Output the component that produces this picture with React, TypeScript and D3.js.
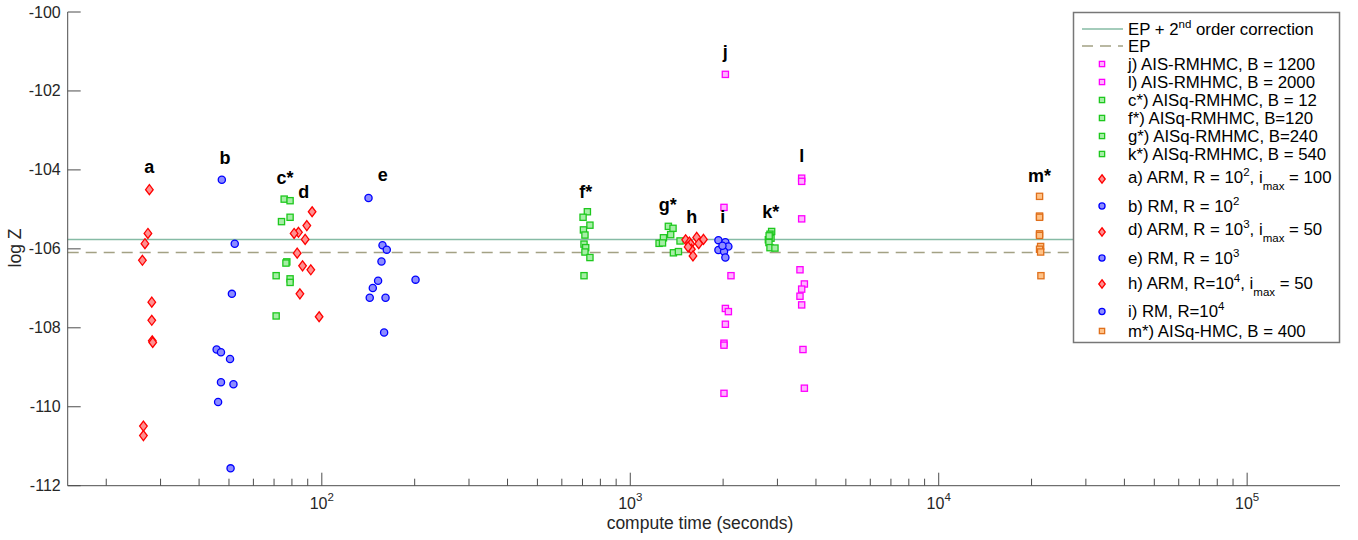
import React from "react";
import * as d3 from "d3";

// ---------------- data ----------------
const aTime = [27.6, 27.3, 26.7, 26.2, 28.1, 28.1, 28.2, 28.3, 26.4, 26.4];
const aLogZ = [-104.5, -105.61, -105.87, -106.29, -107.35, -107.81, -108.33, -108.37, -110.49, -110.73];

const bTime = [47.4, 52.2, 51.1, 45.6, 47.1, 50.4, 47.1, 51.7, 46.1, 50.6];
const bLogZ = [-104.25, -105.87, -107.14, -108.55, -108.62, -108.79, -109.38, -109.43, -109.88, -111.56];

const cTime = [75.5, 78.9, 78.9, 74.0, 77.0, 76.5, 71.1, 78.9, 78.9, 71.1];
const cLogZ = [-104.74, -104.78, -105.2, -105.31, -106.33, -106.36, -106.68, -106.76, -106.85, -107.7];

const dTime = [93.0, 89.4, 84.0, 81.3, 88.3, 83.2, 86.6, 92.1, 84.9, 98.0];
const dLogZ = [-105.06, -105.41, -105.58, -105.61, -105.76, -106.11, -106.43, -106.53, -107.14, -107.72];

const eTime = [141.7, 157.3, 162.4, 156.1, 152.2, 201.3, 146.3, 143.0, 160.9, 159.2];
const eLogZ = [-104.71, -105.91, -106.02, -106.32, -106.81, -106.78, -106.99, -107.24, -107.24, -108.12];

const fTime = [726, 703, 740, 705, 713, 708, 717, 713, 740, 708];
const fLogZ = [-105.06, -105.2, -105.4, -105.52, -105.65, -105.88, -105.97, -106.08, -106.22, -106.68];

const gTime = [1329, 1376, 1352, 1281, 1240, 1272, 1450, 1380, 1433];
const gLogZ = [-105.43, -105.48, -105.64, -105.72, -105.86, -105.85, -105.8, -106.1, -106.07];

const hTime = [1512, 1555, 1642, 1727, 1570, 1667, 1578, 1597, 1540];
const hLogZ = [-105.77, -105.83, -105.71, -105.76, -105.88, -105.87, -106.01, -106.18, -105.95];

const iTime = [1931, 2034, 2080, 1931, 2014, 2034, 1990];
const iLogZ = [-105.78, -105.83, -105.94, -106.03, -106.07, -106.22, -105.92];

const jTime = [2034, 2013, 2121, 2034, 2080, 2034, 2013, 2013, 2013];
const jLogZ = [-101.58, -104.95, -106.68, -107.51, -107.59, -107.91, -108.39, -108.44, -109.66];

const kTime = [2873, 2838, 2859, 2804, 2816, 2838, 2945, 2820];
const kLogZ = [-105.56, -105.63, -105.73, -105.77, -105.84, -105.97, -105.98, -105.67];

const lTime = [3595, 3595, 3595, 3550, 3668, 3595, 3550, 3595, 3630, 3668];
const lLogZ = [-104.21, -104.29, -105.24, -106.53, -106.89, -107.02, -107.2, -107.42, -108.55, -109.53];

const mTime = [21230, 21230, 21230, 21230, 21230, 21400, 21230, 21400, 21450];
const mLogZ = [-104.67, -105.17, -105.2, -105.62, -105.66, -105.94, -106.01, -106.08, -106.68];

const epCorrected = -105.76;
const ep = -106.09;

const labelText = ["a", "b", "c*", "d", "e", "f*", "g*", "h", "i", "j", "k*", "l", "m*"];
const labelTime = [27.6, 48.5, 75.9, 87.4, 157.6, 717, 1322, 1582, 1994, 2034, 2853, 3595, 21232];
const labelLogZ = [-104.08, -103.85, -104.36, -104.71, -104.28, -104.71, -105.04, -105.35, -105.35, -101.17, -105.22, -103.8, -104.31];

const yTicks = [-112, -110, -108, -106, -104, -102, -100];
const xMajorExp = [2, 3, 4, 5];

// ---------------- styles ----------------
const FONT = "'Liberation Sans', Arial, Helvetica, sans-serif";
const RED = { stroke: "#ff0000", fill: "#ff9090" };
const BLUE = { stroke: "#0000ff", fill: "#8c8cff" };
const GREEN = { stroke: "#1ec81e", fill: "#a6eea6" };
const MAG = { stroke: "#ff00ff", fill: "#ffb4ff" };
const ORANGE = { stroke: "#e0701c", fill: "#ffc286" };

type MarkerType = "square" | "diamond" | "circle";
interface Series {
  time: number[];
  logZ: number[];
  marker: MarkerType;
  stroke: string;
  fill: string;
  legend: string;
  textY: number;
  markY: number;
}

const series: Series[] = [
  { time: jTime, logZ: jLogZ, marker: "square", ...MAG, legend: "j) AIS-RMHMC, B = 1200", textY: 64, markY: 64 },
  { time: lTime, logZ: lLogZ, marker: "square", ...MAG, legend: "l) AIS-RMHMC, B = 2000", textY: 82, markY: 82 },
  { time: cTime, logZ: cLogZ, marker: "square", ...GREEN, legend: "c*) AISq-RMHMC, B = 12", textY: 100, markY: 100 },
  { time: fTime, logZ: fLogZ, marker: "square", ...GREEN, legend: "f*) AISq-RMHMC, B=120", textY: 118, markY: 118 },
  { time: gTime, logZ: gLogZ, marker: "square", ...GREEN, legend: "g*) AISq-RMHMC, B=240", textY: 136, markY: 136 },
  { time: kTime, logZ: kLogZ, marker: "square", ...GREEN, legend: "k*) AISq-RMHMC, B = 540", textY: 154, markY: 154 },
  { time: aTime, logZ: aLogZ, marker: "diamond", ...RED, legend: "a) ARM, R = 10^{2}, i_{max} = 100", textY: 177, markY: 179 },
  { time: bTime, logZ: bLogZ, marker: "circle", ...BLUE, legend: "b) RM, R = 10^{2}", textY: 206, markY: 206 },
  { time: dTime, logZ: dLogZ, marker: "diamond", ...RED, legend: "d) ARM, R = 10^{3}, i_{max} = 50", textY: 229, markY: 232 },
  { time: eTime, logZ: eLogZ, marker: "circle", ...BLUE, legend: "e) RM, R = 10^{3}", textY: 258, markY: 258 },
  { time: hTime, logZ: hLogZ, marker: "diamond", ...RED, legend: "h) ARM, R=10^{4}, i_{max} = 50", textY: 283, markY: 284 },
  { time: iTime, logZ: iLogZ, marker: "circle", ...BLUE, legend: "i) RM, R=10^{4}", textY: 311, markY: 311.5 },
  { time: mTime, logZ: mLogZ, marker: "square", ...ORANGE, legend: "m*) AISq-HMC, B = 400", textY: 331, markY: 331 },
];

// ---------------- scales ----------------
const xScale = d3.scaleLog().domain([15, 2e5]).range([67.7, 1340]);
const yScale = d3.scaleLinear().domain([-112, -100]).range([485.7, 12]);

const AX = "#4d4d4d";
const LEG_FS = 16.8;

function Marker({ type, x, y, stroke, fill, s = 1 }: { type: MarkerType; x: number; y: number; stroke: string; fill: string; s?: number }) {
  if (type === "square") {
    const h = 3.1 * s;
    return <rect x={x - h} y={y - h} width={2 * h} height={2 * h} fill={fill} stroke={stroke} strokeWidth={1.3} />;
  }
  if (type === "diamond") {
    const w = 3.8 * s, hh = 5 * s;
    return <path d={`M${x},${y - hh}L${x + w},${y}L${x},${y + hh}L${x - w},${y}Z`} fill={fill} stroke={stroke} strokeWidth={1.3} />;
  }
  return <circle cx={x} cy={y} r={3.6 * s} fill={fill} stroke={stroke} strokeWidth={1.3} />;
}

function rich(s: string, small = 11.5) {
  const parts = s.split(/(\^\{[^}]*\}|_\{[^}]*\})/).filter((p) => p.length > 0);
  let shift = 0;
  return parts.map((p, i) => {
    if (p.startsWith("^{")) {
      const dy = -7 - shift;
      shift = -7;
      return <tspan key={i} dy={dy} fontSize={small}>{p.slice(2, -1)}</tspan>;
    }
    if (p.startsWith("_{")) {
      const dy = 7 - shift;
      shift = 7;
      return <tspan key={i} dy={dy} fontSize={small}>{p.slice(2, -1)}</tspan>;
    }
    const dy = -shift;
    shift = 0;
    return <tspan key={i} dy={dy}>{p}</tspan>;
  });
}

export default function App() {
  const minorTicks: number[] = [];
  for (let e = 1; e <= 5; e++) {
    for (let m = 2; m <= 9; m++) {
      const v = m * Math.pow(10, e);
      if (v > 15 && v < 2e5) minorTicks.push(v);
    }
  }
  const xL = xScale.range()[0];
  const xR = xScale.range()[1];
  const yB = yScale.range()[0];
  const yT = yScale.range()[1];

  const legX = 1073.5, legY = 12.5, legW = 266, legH = 330;

  return (
    <div style={{ position: "absolute", left: 0, top: 0 }}>
      <svg width={1358} height={540} style={{ display: "block", background: "#fff" }} fontFamily={FONT}>
        {/* reference lines */}
        <line x1={xL} x2={xR} y1={yScale(epCorrected)} y2={yScale(epCorrected)} stroke="#86bba5" strokeWidth={1.5} />
        <line x1={xL} x2={xR} y1={yScale(ep)} y2={yScale(ep)} stroke="#a3a184" strokeWidth={1.5} strokeDasharray="11,7" />

        {/* axes */}
        <line x1={xL} x2={xL} y1={yT} y2={yB} stroke={AX} strokeWidth={1} />
        <line x1={xL} x2={xR} y1={yB} y2={yB} stroke={AX} strokeWidth={1} />
        {yTicks.map((t) => (
          <g key={t}>
            <line x1={xL} x2={xL + 13} y1={yScale(t)} y2={yScale(t)} stroke={AX} />
            <text x={xL - 7} y={yScale(t) + 5.5} textAnchor="end" fontSize={16} fill="#262626">{t}</text>
          </g>
        ))}
        {minorTicks.map((t) => (
          <line key={t} x1={xScale(t)} x2={xScale(t)} y1={yB} y2={yB - 7} stroke={AX} />
        ))}
        {xMajorExp.map((e) => (
          <g key={e}>
            <line x1={xScale(Math.pow(10, e))} x2={xScale(Math.pow(10, e))} y1={yB} y2={yB - 13} stroke={AX} />
            <text x={xScale(Math.pow(10, e))} y={509} textAnchor="middle" fontSize={16} fill="#262626">
              10<tspan dy={-8.5} fontSize={11.5}>{e}</tspan>
            </text>
          </g>
        ))}
        <text x={700} y={529} textAnchor="middle" fontSize={17.5} fill="#262626">compute time (seconds)</text>
        <text transform={`translate(21,248) rotate(-90)`} textAnchor="middle" fontSize={17.5} fill="#262626">log Z</text>

        {/* data */}
        {series.map((s, si) => (
          <g key={si}>
            {s.time.map((t, i) => (
              <Marker key={i} type={s.marker} x={xScale(t)} y={yScale(s.logZ[i])} stroke={s.stroke} fill={s.fill} />
            ))}
          </g>
        ))}

        {/* cluster labels */}
        {labelText.map((l, i) => (
          <text key={i} x={xScale(labelTime[i])} y={yScale(labelLogZ[i])} textAnchor="middle" fontSize={18} fontWeight="bold" fill="#000">{l}</text>
        ))}

        {/* legend */}
        <rect x={legX} y={legY} width={legW} height={legH} fill="#fff" stroke="#777" strokeWidth={1.5} />
        <line x1={1082} x2={1123} y1={29} y2={29} stroke="#86bba5" strokeWidth={1.5} />
        <text x={1128} y={29 + 5.8} fontSize={LEG_FS} fill="#000">{rich("EP + 2^{nd} order correction")}</text>
        <line x1={1082} x2={1123} y1={46} y2={46} stroke="#a3a184" strokeWidth={1.5} strokeDasharray="11,7" />
        <text x={1128} y={46 + 5.8} fontSize={LEG_FS} fill="#000">EP</text>
        {series.map((s, si) => (
          <g key={si}>
            <Marker type={s.marker} x={1102} y={s.markY} stroke={s.stroke} fill={s.fill} s={0.85} />
            <text x={1128} y={s.textY + 5.8} fontSize={LEG_FS} fill="#000">{rich(s.legend)}</text>
          </g>
        ))}
      </svg>
    </div>
  );
}
